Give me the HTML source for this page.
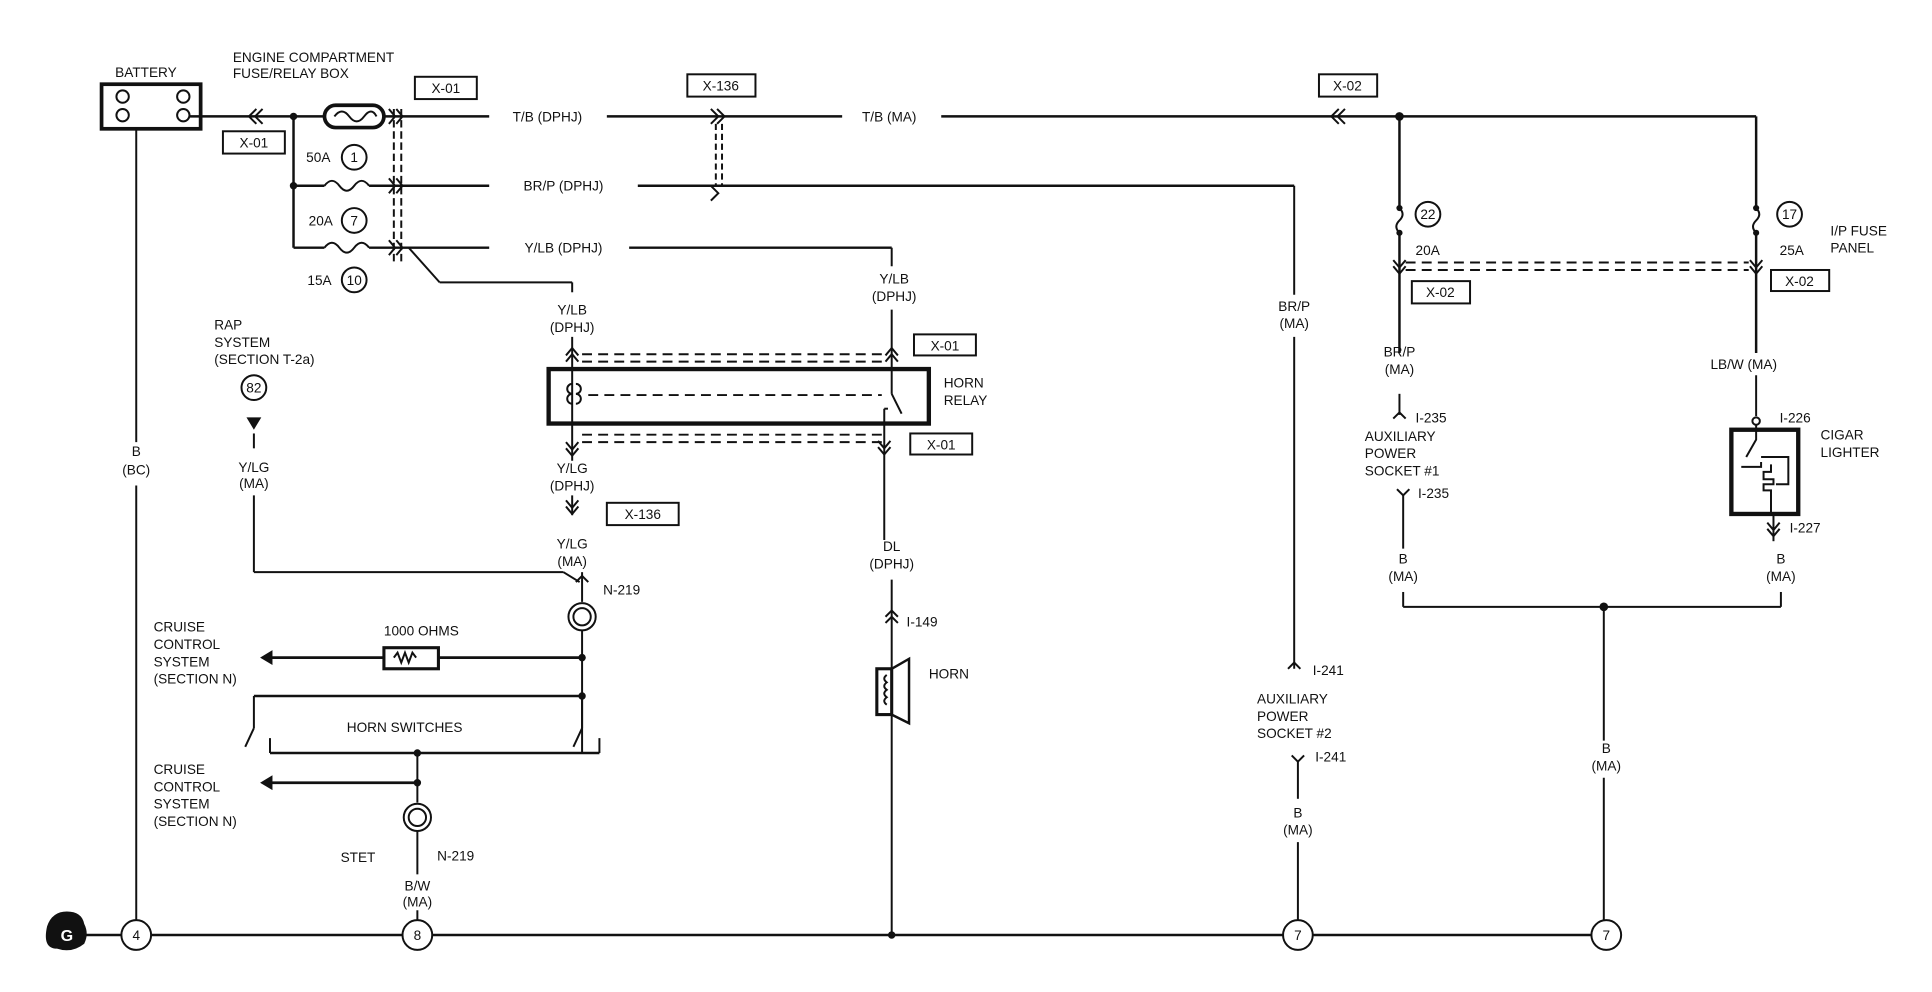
<!DOCTYPE html>
<html><head><meta charset="utf-8"><style>
html,body{margin:0;padding:0;background:#fff;}
svg{display:block;}
text{font-family:"Liberation Sans",sans-serif;font-size:11px;fill:#111;}
.c{text-anchor:middle;}
</style></head><body>
<svg width="1932" height="992" viewBox="0 0 1560 801" xmlns="http://www.w3.org/2000/svg">
<g stroke="#111" stroke-width="1.6" fill="none">
<!-- battery -->
<rect x="82" y="68" width="80" height="36" stroke-width="3"/>
<circle cx="99" cy="78" r="5"/><circle cx="148" cy="78" r="5"/>
<circle cx="99" cy="93" r="5"/><circle cx="148" cy="93" r="5"/>
<!-- ground bus -->
<line x1="68" y1="755" x2="1297" y2="755" stroke-width="2"/>
<line x1="110" y1="104" x2="110" y2="357"/><line x1="110" y1="392" x2="110" y2="743"/>
<!-- top wire -->
<line x1="153" y1="94" x2="262" y2="94" stroke-width="2"/>
<path d="M212 88 l-6 6 l6 6 M207 88 l-6 6 l6 6"/>
<rect x="262" y="85" width="48" height="18" rx="9" stroke-width="3"/>
<path d="M270 94 q6 -8 12 0 q6 8 12 0 q6 -8 10 0"/>
<line x1="310" y1="94" x2="395" y2="94" stroke-width="2"/>
<line x1="490" y1="94" x2="680" y2="94" stroke-width="2"/>
<line x1="760" y1="94" x2="1418" y2="94" stroke-width="2"/>
<path d="M574 88 l6 6 l-6 6 M579 88 l6 6 l-6 6 M574 150 l6 6 l-6 6"/>
<path d="M1086 88 l-6 6 l6 6 M1081 88 l-6 6 l6 6"/>
<line x1="578" y1="100" x2="578" y2="150" stroke-dasharray="5,3"/>
<line x1="583" y1="100" x2="583" y2="150" stroke-dasharray="5,3"/>
<line x1="237" y1="94" x2="237" y2="200" stroke-width="2"/>
<line x1="237" y1="150" x2="262" y2="150" stroke-width="2"/>
<path d="M262 150 q6 -8 12 0 q6 8 12 0 q6 -8 12 0"/>
<line x1="298" y1="150" x2="395" y2="150" stroke-width="2"/>
<line x1="237" y1="200" x2="262" y2="200" stroke-width="2"/>
<path d="M262 200 q6 -8 12 0 q6 8 12 0 q6 -8 12 0"/>
<line x1="298" y1="200" x2="395" y2="200" stroke-width="2"/>
<line x1="318" y1="88" x2="318" y2="212" stroke-dasharray="6,3"/>
<line x1="324" y1="88" x2="324" y2="212" stroke-dasharray="6,3"/>
<path d="M314 88 l5 6 l-5 6 M320 88 l5 6 l-5 6 M314 144 l5 6 l-5 6 M320 144 l5 6 l-5 6 M314 194 l5 6 l-5 6 M320 194 l5 6 l-5 6"/>
<line x1="515" y1="150" x2="1045" y2="150" stroke-width="2"/>
<line x1="1045" y1="150" x2="1045" y2="238"/><line x1="1045" y1="272" x2="1045" y2="540"/>
<path d="M1040 540 l5 -5 l5 5"/>
<line x1="1048" y1="615" x2="1048" y2="645"/><path d="M1043 610 l5 5 l5 -5"/>
<line x1="1048" y1="680" x2="1048" y2="743"/>
<line x1="508" y1="200" x2="720" y2="200" stroke-width="2"/>
<line x1="720" y1="200" x2="720" y2="215"/>
<line x1="330" y1="200" x2="355" y2="228"/><line x1="355" y1="228" x2="462" y2="228"/><line x1="462" y1="228" x2="462" y2="236"/>
<!-- horn relay -->
<rect x="443" y="298" width="307" height="44" stroke-width="3.5"/>
<line x1="462" y1="272" x2="462" y2="372"/>
<path d="M457 287 l5 -6 l5 6 M457 292 l5 -6 l5 6 M457 357 l5 6 l5 -6 M457 362 l5 6 l5 -6"/>
<path d="M465 310 a4 4 0 0 1 0 8 a4 4 0 0 1 0 8 M462 310 a4 4 0 0 0 0 8 a4 4 0 0 0 0 8"/>
<line x1="470" y1="286" x2="712" y2="286" stroke-dasharray="8,5"/>
<line x1="470" y1="292" x2="712" y2="292" stroke-dasharray="8,5"/>
<line x1="475" y1="319" x2="712" y2="319" stroke-dasharray="8,5"/>
<line x1="470" y1="351" x2="712" y2="351" stroke-dasharray="8,5"/>
<line x1="470" y1="357" x2="712" y2="357" stroke-dasharray="8,5"/>
<line x1="720" y1="250" x2="720" y2="318"/><line x1="720" y1="318" x2="728" y2="334"/>
<line x1="714" y1="330" x2="714" y2="436"/><line x1="714" y1="330" x2="717" y2="330"/>
<path d="M715 287 l5 -6 l5 6 M715 292 l5 -6 l5 6"/>
<path d="M709 356 l5 6 l5 -6 M709 361 l5 6 l5 -6"/>
<path d="M457 404 l5 6 l5 -6 M457 409 l5 6 l5 -6"/>
<line x1="462" y1="400" x2="462" y2="416"/>
<line x1="470" y1="462" x2="470" y2="486"/><path d="M465 470 l5 -5 l5 5"/>
<line x1="205" y1="350" x2="205" y2="362"/><line x1="205" y1="400" x2="205" y2="462"/>
<line x1="205" y1="462" x2="455" y2="462"/><line x1="455" y1="462" x2="468" y2="470"/>
<circle cx="470" cy="498" r="11"/><circle cx="470" cy="498" r="7"/>
<line x1="470" y1="509" x2="470" y2="608"/>
<line x1="215" y1="531" x2="470" y2="531" stroke-width="2.2"/>
<rect x="310" y="523" width="44" height="17" stroke-width="2.5" fill="#fff"/>
<path d="M318 531 l3 -4 l3 8 l3 -8 l3 8 l3 -8 l3 4"/>
<line x1="205" y1="562" x2="470" y2="562" stroke-width="2"/>
<line x1="205" y1="562" x2="205" y2="588"/><line x1="205" y1="588" x2="198" y2="603"/>
<line x1="470" y1="562" x2="470" y2="588"/><line x1="470" y1="588" x2="463" y2="603"/>
<line x1="218" y1="596" x2="218" y2="608"/><line x1="484" y1="596" x2="484" y2="608"/>
<line x1="218" y1="608" x2="484" y2="608" stroke-width="2"/>
<line x1="337" y1="608" x2="337" y2="648"/>
<line x1="215" y1="632" x2="337" y2="632" stroke-width="2.2"/>
<circle cx="337" cy="660" r="11"/><circle cx="337" cy="660" r="7"/>
<line x1="337" y1="671" x2="337" y2="706"/><line x1="337" y1="735" x2="337" y2="743"/>
<!-- horn -->
<line x1="720" y1="468" x2="720" y2="755"/><path d="M715 498 l5 -5 l5 5 M715 503 l5 -5 l5 5"/>
<rect x="708" y="540" width="12" height="37" stroke-width="2.5" fill="#fff"/>
<path d="M720 540 l14 -8 v52 l-14 -7" stroke-width="2"/>
<path d="M716 545 q-4 3 0 6 q-4 3 0 6 q-4 3 0 6 q-4 3 0 6"/>
<!-- right section -->
<line x1="1130" y1="94" x2="1130" y2="168" stroke-width="2"/>
<path d="M1130 168 q5 5 0 10 q-5 5 0 10"/>
<line x1="1130" y1="188" x2="1130" y2="285" stroke-width="2"/>
<path d="M1125 210 l5 6 l5 -6 M1125 215 l5 6 l5 -6"/>
<line x1="1135" y1="212" x2="1412" y2="212" stroke-dasharray="8,5"/>
<line x1="1135" y1="218" x2="1412" y2="218" stroke-dasharray="8,5"/>
<line x1="1130" y1="318" x2="1130" y2="335"/><path d="M1125 338 l5 -5 l5 5"/>
<line x1="1133" y1="400" x2="1133" y2="443"/><path d="M1128 395 l5 5 l5 -5"/>
<line x1="1133" y1="478" x2="1133" y2="490"/>
<line x1="1133" y1="490" x2="1438" y2="490"/><line x1="1438" y1="478" x2="1438" y2="490"/>
<line x1="1295" y1="490" x2="1295" y2="598"/><line x1="1295" y1="628" x2="1295" y2="743"/>
<line x1="1418" y1="94" x2="1418" y2="168" stroke-width="2"/>
<path d="M1418 168 q5 5 0 10 q-5 5 0 10"/>
<line x1="1418" y1="188" x2="1418" y2="285" stroke-width="2"/>
<path d="M1413 210 l5 6 l5 -6 M1413 215 l5 6 l5 -6"/>
<line x1="1418" y1="303" x2="1418" y2="336"/><circle cx="1418" cy="340" r="3"/>
<rect x="1398" y="347" width="54" height="68" stroke-width="3.5"/>
<path d="M1418 343 v12 l-8 14 M1406 377 h16 v-4 M1422 369 h22 v22 h-10 M1430 375 v6 h-6 v6 h8 v4 h-8 v5 h6 v20"/>
<line x1="1432" y1="415" x2="1432" y2="437"/><path d="M1427 422 l5 6 l5 -6 M1427 427 l5 6 l5 -6"/>
</g>
<!-- dots -->
<g fill="#111">
<circle cx="237" cy="94" r="3"/><circle cx="237" cy="150" r="3"/><circle cx="1130" cy="94" r="3.5"/>
<circle cx="470" cy="531" r="3"/><circle cx="470" cy="562" r="3"/><circle cx="337" cy="608" r="3"/><circle cx="337" cy="632" r="3"/>
<circle cx="720" cy="755" r="3"/><circle cx="1295" cy="490" r="3.5"/>
<circle cx="1130" cy="168" r="2.5"/><circle cx="1130" cy="188" r="2.5"/><circle cx="1418" cy="168" r="2.5"/><circle cx="1418" cy="188" r="2.5"/>
<path d="M210 531 l10 -6 v12 z M210 632 l10 -6 v12 z M199 337 h12 l-6 10 z"/>
<path d="M38 748 q4 -12 16 -12 q12 0 14 10 q4 8 0 16 q-10 8 -22 4 q-12 0 -8 -18z"/>
</g>
<text x="49" y="760" style="font-weight:bold;font-size:13px;fill:#fff">G</text>
<g stroke="#111" stroke-width="1.6" fill="#fff">
<circle cx="110" cy="755" r="12"/><circle cx="337" cy="755" r="12"/><circle cx="1048" cy="755" r="12"/><circle cx="1297" cy="755" r="12"/>
<circle cx="286" cy="127" r="10"/><circle cx="286" cy="178" r="10"/><circle cx="286" cy="226" r="10"/>
<circle cx="205" cy="313" r="10"/><circle cx="1153" cy="173" r="10"/><circle cx="1445" cy="173" r="10"/>
<rect x="335" y="62" width="50" height="18"/><rect x="555" y="60" width="55" height="18"/><rect x="1065" y="60" width="47" height="18"/>
<rect x="180" y="106" width="50" height="18"/><rect x="738" y="270" width="50" height="17"/><rect x="735" y="350" width="50" height="17"/>
<rect x="490" y="406" width="58" height="18"/><rect x="1140" y="227" width="47" height="18"/><rect x="1430" y="218" width="47" height="17"/>
</g>
<g>
<text x="110" y="759" class="c">4</text><text x="337" y="759" class="c">8</text><text x="1048" y="759" class="c">7</text><text x="1297" y="759" class="c">7</text>
<text x="286" y="131" class="c">1</text><text x="286" y="182" class="c">7</text><text x="286" y="230" class="c">10</text>
<text x="205" y="317" class="c">82</text><text x="1153" y="177" class="c">22</text><text x="1445" y="177" class="c">17</text>
<text x="360" y="75" class="c">X-01</text><text x="582" y="73" class="c">X-136</text><text x="1088" y="73" class="c">X-02</text>
<text x="205" y="119" class="c">X-01</text><text x="763" y="283" class="c">X-01</text><text x="760" y="363" class="c">X-01</text>
<text x="519" y="419" class="c">X-136</text><text x="1163" y="240" class="c">X-02</text><text x="1453" y="231" class="c">X-02</text>
<text x="93" y="62">BATTERY</text>
<text x="188" y="50">ENGINE COMPARTMENT</text><text x="188" y="63">FUSE/RELAY BOX</text>
<text x="257" y="131" class="c">50A</text><text x="259" y="182" class="c">20A</text><text x="258" y="230" class="c">15A</text>
<text x="442" y="98" class="c">T/B (DPHJ)</text><text x="718" y="98" class="c">T/B (MA)</text>
<text x="455" y="154" class="c">BR/P (DPHJ)</text><text x="455" y="204" class="c">Y/LB (DPHJ)</text>
<text x="722" y="229" class="c">Y/LB</text><text x="722" y="243" class="c">(DPHJ)</text>
<text x="462" y="254" class="c">Y/LB</text><text x="462" y="268" class="c">(DPHJ)</text>
<text x="762" y="313">HORN</text><text x="762" y="327">RELAY</text>
<text x="462" y="382" class="c">Y/LG</text><text x="462" y="396" class="c">(DPHJ)</text>
<text x="462" y="443" class="c">Y/LG</text><text x="462" y="457" class="c">(MA)</text>
<text x="487" y="480">N-219</text>
<text x="173" y="266">RAP</text><text x="173" y="280">SYSTEM</text><text x="173" y="294">(SECTION T-2a)</text>
<text x="205" y="381" class="c">Y/LG</text><text x="205" y="394" class="c">(MA)</text>
<text x="110" y="368" class="c">B</text><text x="110" y="383" class="c">(BC)</text>
<text x="310" y="513">1000 OHMS</text>
<text x="124" y="510">CRUISE</text><text x="124" y="524">CONTROL</text><text x="124" y="538">SYSTEM</text><text x="124" y="552">(SECTION N)</text>
<text x="280" y="591">HORN SWITCHES</text>
<text x="124" y="625">CRUISE</text><text x="124" y="639">CONTROL</text><text x="124" y="653">SYSTEM</text><text x="124" y="667">(SECTION N)</text>
<text x="275" y="696">STET</text><text x="353" y="695">N-219</text>
<text x="337" y="719" class="c">B/W</text><text x="337" y="732" class="c">(MA)</text>
<text x="720" y="445" class="c">DL</text><text x="720" y="459" class="c">(DPHJ)</text>
<text x="732" y="506">I-149</text><text x="750" y="548">HORN</text>
<text x="1045" y="251" class="c">BR/P</text><text x="1045" y="265" class="c">(MA)</text>
<text x="1060" y="545">I-241</text>
<text x="1015" y="568">AUXILIARY</text><text x="1015" y="582">POWER</text><text x="1015" y="596">SOCKET #2</text>
<text x="1062" y="615">I-241</text>
<text x="1048" y="660" class="c">B</text><text x="1048" y="674" class="c">(MA)</text>
<text x="1143" y="206">20A</text><text x="1437" y="206">25A</text>
<text x="1478" y="190">I/P FUSE</text><text x="1478" y="204">PANEL</text>
<text x="1130" y="288" class="c">BR/P</text><text x="1130" y="302" class="c">(MA)</text>
<text x="1143" y="341">I-235</text>
<text x="1102" y="356">AUXILIARY</text><text x="1102" y="370">POWER</text><text x="1102" y="384">SOCKET #1</text>
<text x="1145" y="402">I-235</text>
<text x="1133" y="455" class="c">B</text><text x="1133" y="469" class="c">(MA)</text>
<text x="1408" y="298" class="c">LB/W (MA)</text><text x="1437" y="341">I-226</text>
<text x="1470" y="355">CIGAR</text><text x="1470" y="369">LIGHTER</text>
<text x="1445" y="430">I-227</text>
<text x="1438" y="455" class="c">B</text><text x="1438" y="469" class="c">(MA)</text>
<text x="1297" y="608" class="c">B</text><text x="1297" y="622" class="c">(MA)</text>
</g>
</svg>
</body></html>
